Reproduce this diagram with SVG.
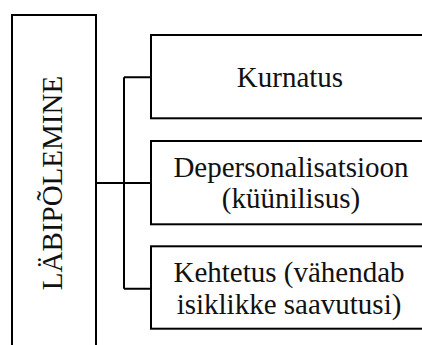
<svg xmlns="http://www.w3.org/2000/svg" width="422" height="345" viewBox="0 0 422 345">
<style>
.box{fill:#fff;stroke:#000;stroke-width:2}
.ln{fill:none;stroke:#000;stroke-width:2}
</style>
<rect width="422" height="345" fill="#fff"/>
<g id="connectors">
<path class="ln" d="M96 183H151M124 77.3V288.7M124 77.3H151M124 288.7H151"/>
</g>
<g font-family="Liberation Serif" font-size="29" fill="#111" text-anchor="middle">
<g id="lab">
<rect class="box" x="12" y="15" width="84" height="340"/>
<text transform="translate(62,183) rotate(-90)">LÄBIPÕLEMINE</text>
</g>
<g id="kurnatus">
<rect class="box" x="151" y="35" width="290" height="83.3"/>
<text x="290" y="87">Kurnatus</text>
</g>
<g id="depers">
<rect class="box" x="151" y="141" width="290" height="83.3"/>
<text x="291" y="177">Depersonalisatsioon</text>
<text x="291" y="208">(küünilisus)</text>
</g>
<g id="kehtetus">
<rect class="box" x="151" y="246.3" width="290" height="82.4"/>
<text x="289" y="282">Kehtetus (vähendab</text>
<text x="289" y="314">isiklikke saavutusi)</text>
</g>
</g>
</svg>
